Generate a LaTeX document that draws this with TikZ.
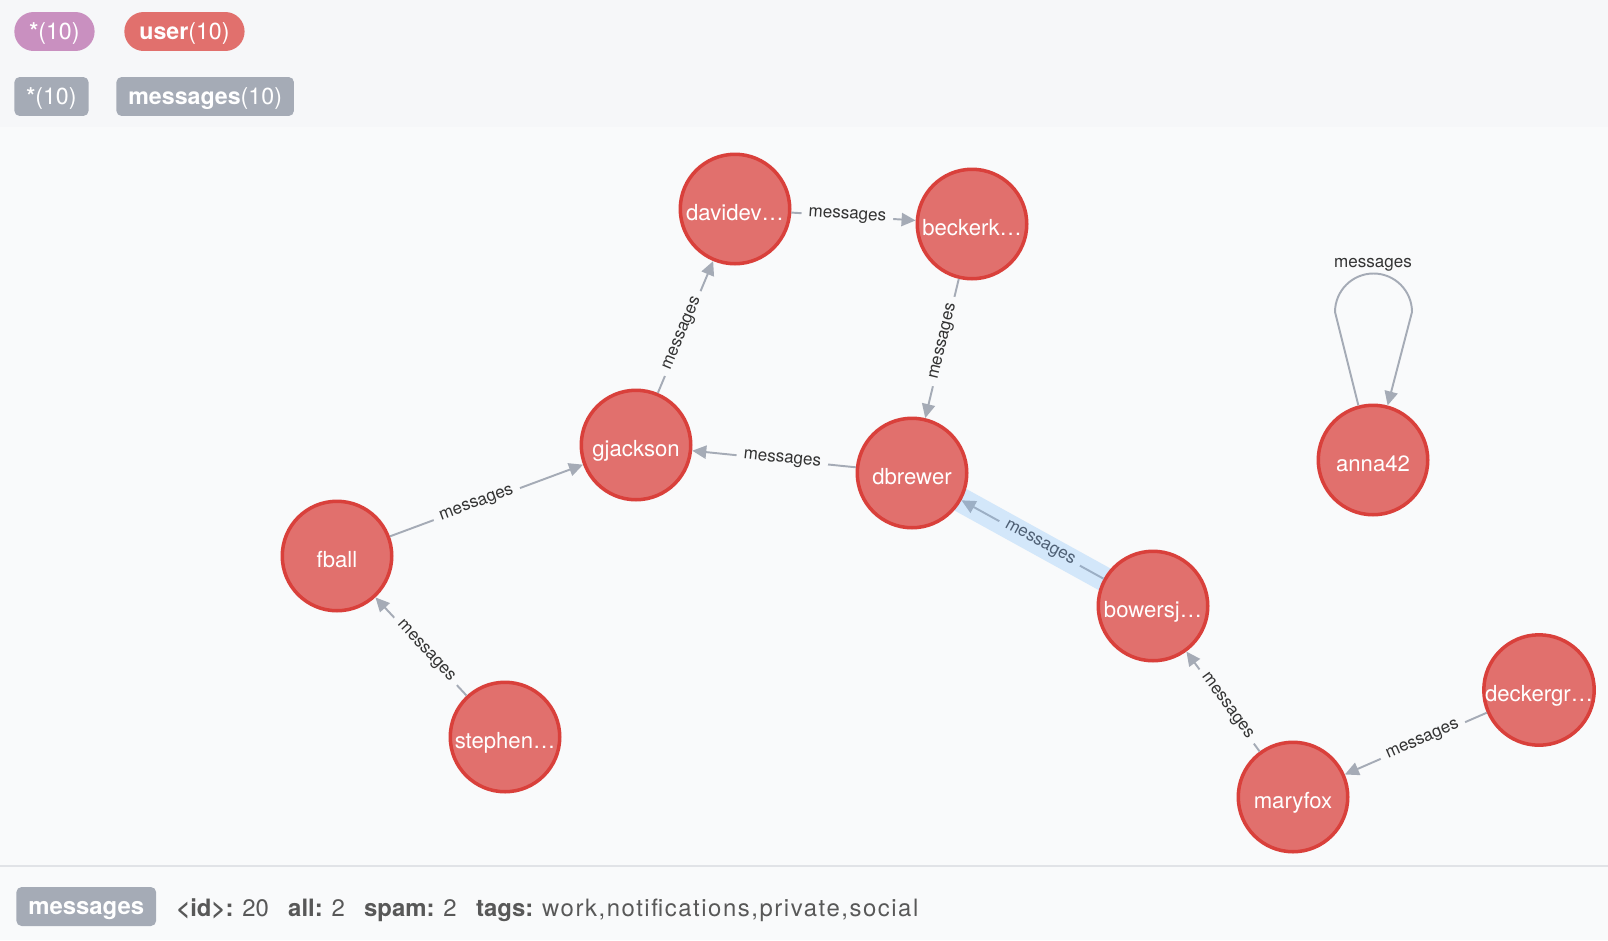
\documentclass[tikz,border=0pt]{standalone}
\usepackage{fontspec}
\setmainfont{TeX Gyre Heros}
\usetikzlibrary{arrows.meta,backgrounds}

\definecolor{pagebg}{HTML}{F9FAFB}
\definecolor{stripbg}{HTML}{F6F7F9}
\definecolor{rulegray}{HTML}{E1E3E7}
\definecolor{userfill}{HTML}{E1706D}
\definecolor{userline}{HTML}{D9403B}
\definecolor{anyfill}{HTML}{C990C0}
\definecolor{relgray}{HTML}{A5ABB6}
\definecolor{reltext}{HTML}{333333}
\definecolor{selband}{HTML}{D3E7FA}
\definecolor{selline}{HTML}{9CAFC5}
\definecolor{seltext}{HTML}{4E5F74}
\definecolor{infotext}{HTML}{585858}

\begin{document}
\begin{tikzpicture}[x=0.02cm,y=-0.02cm,
  user/.style={circle,draw=userline,line width=2pt,fill=userfill,minimum size=2.19cm,
    inner sep=0pt,text height=1.35em,text depth=0pt,text=white,font=\fontsize{12.6pt}{15pt}\selectfont},
  rel/.style={draw=relgray,line width=1.1pt,-{Triangle[length=8pt,width=7.5pt]}},
  lbl/.style={pos=0.45,sloped,fill=pagebg,inner xsep=4pt,inner ysep=1pt,text=reltext,
    font=\fontsize{9.7pt}{11pt}\selectfont},
  pill/.style={anchor=west,rounded corners=11pt,minimum height=0.78cm,inner xsep=0.3cm,
    text height=0.95em,text depth=0pt,text=white,font=\fontsize{13.2pt}{15pt}\selectfont},
  tagbox/.style={anchor=west,fill=relgray,rounded corners=3pt,minimum height=0.78cm,
    inner xsep=0.24cm,text height=0.95em,text depth=0pt,text=white,
    font=\fontsize{13.2pt}{15pt}\selectfont}]
\useasboundingbox (0,0) rectangle (1608,940);
\begin{pgfonlayer}{background}
\fill[pagebg] (0,0) rectangle (1608,940);
\fill[stripbg] (0,0) rectangle (1608,127);
\draw[rulegray,line width=1.2pt] (0,866) -- (1608,866);
\end{pgfonlayer}

% legend
\node[pill,fill=anyfill] (anylabel) at (14,31.5) {\textbf{*}(10)};
\node[pill,fill=userfill] (userlabel) at (124,31.5) {\textbf{user}(10)};
\node[tagbox] (anytype) at (14,96.5) {\textbf{*}(10)};
\node[tagbox] (msgtype) at (116,96.5) {\textbf{messages}(10)};

% users
\node[user] (davidev) at (735,209) {davidev…};
\node[user] (beckerk) at (972,224) {beckerk…};
\node[user] (gjackson) at (636,445) {gjackson};
\node[user] (dbrewer) at (912,473) {dbrewer};
\node[user] (anna) at (1373,460) {anna42};
\node[user] (fball) at (337,556) {fball};
\node[user] (bowersj) at (1153,606) {bowersj…};
\node[user] (stephen) at (505,737) {stephen…};
\node[user] (maryfox) at (1293,797) {maryfox};
\node[user] (deckergr) at (1539,690) {deckergr…};

% messages
\draw[rel] (davidev) -- node[lbl] {messages} (beckerk);
\draw[rel] (gjackson) -- node[lbl] {messages} (davidev);
\draw[rel] (beckerk) -- node[lbl] {messages} (dbrewer);
\draw[rel] (dbrewer) -- node[lbl] {messages} (gjackson);
\draw[rel] (fball) -- node[lbl] {messages} (gjackson);
\draw[rel] (stephen) -- node[lbl] {messages} (fball);
\draw[rel] (maryfox) -- node[lbl] {messages} (bowersj);
\draw[rel] (deckergr) -- node[lbl] {messages} (maryfox);
\begin{pgfonlayer}{background}
\draw[selband,line width=14pt] (dbrewer.center) -- (bowersj.center);
\end{pgfonlayer}
\draw[rel,draw=selline] (bowersj) -- node[lbl,fill=selband,text=seltext] {messages} (dbrewer);
\draw[rel] (anna.105) -- (1335,312) arc[start angle=180,end angle=0,radius=0.77cm] -- (anna.75);
\node[text=reltext,font=\fontsize{9.7pt}{11pt}\selectfont] (looplabel) at (1373,265) {messages};

% selection info
\node[tagbox,font=\fontsize{13.6pt}{16pt}\selectfont] (seltype) at (16,906.5) {\textbf{messages}};
\node[anchor=west,inner sep=0pt,text=infotext,font=\fontsize{13.6pt}{16pt}\selectfont] (selprops)
  at (176,910.5) {\textbf{<id>:} 20\hspace{11pt}\textbf{all:} 2\hspace{11pt}\textbf{spam:} 2\hspace{11pt}\textbf{tags:} {\addfontfeature{LetterSpace=6.5}work,notifications,private,social}};
\end{tikzpicture}
\end{document}
